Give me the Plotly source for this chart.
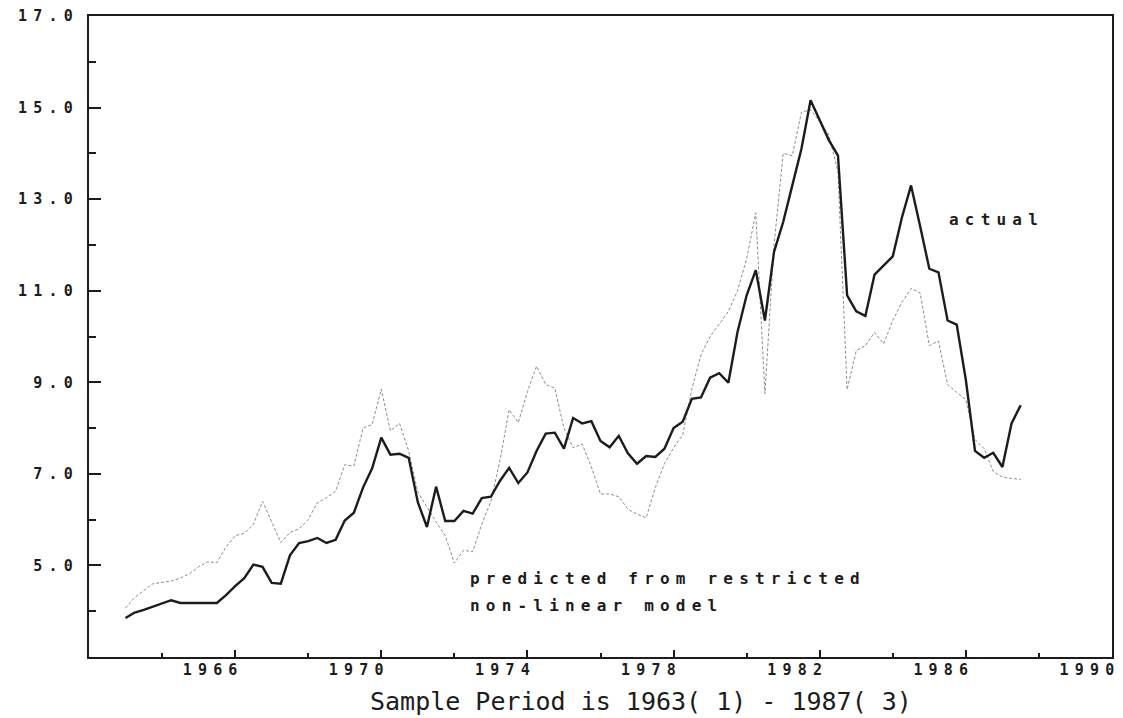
import plotly.graph_objects as go

# Quarterly sample 1963(1) - 1987(3)
start_year = 1963
n_quarters = 99
quarters = [start_year + i / 4 for i in range(n_quarters)]

actual = [3.85, 3.97, 4.03, 4.10, 4.16, 4.24, 4.18, 4.18, 4.18, 4.18,
          4.18, 4.35, 4.55, 4.72, 5.02, 4.97, 4.62, 4.60, 5.22, 5.49,
          5.53, 5.60, 5.49, 5.56, 5.98, 6.15, 6.70, 7.12, 7.79, 7.42,
          7.44, 7.35, 6.38, 5.84, 6.72, 5.97, 5.97, 6.19, 6.13, 6.47,
          6.50, 6.85, 7.13, 6.80, 7.03, 7.50, 7.88, 7.90, 7.55, 8.22,
          8.10, 8.15, 7.72, 7.58, 7.83, 7.45, 7.22, 7.39, 7.37, 7.55,
          8.00, 8.14, 8.64, 8.67, 9.10, 9.20, 8.99, 10.10, 10.90, 11.45,
          10.35, 11.85, 12.50, 13.30, 14.10, 15.16, 14.72, 14.29, 13.95, 10.90,
          10.55, 10.45, 11.35, 11.55, 11.75, 12.60, 13.30, 12.40, 11.48, 11.40,
          10.35, 10.26, 9.05, 7.50, 7.35, 7.46, 7.15, 8.10, 8.50]

predicted = [4.07, 4.30, 4.45, 4.60, 4.63, 4.66, 4.72, 4.82, 4.97, 5.08,
             5.06, 5.40, 5.65, 5.70, 5.90, 6.40, 5.95, 5.50, 5.72, 5.80,
             6.00, 6.37, 6.48, 6.62, 7.20, 7.17, 8.00, 8.08, 8.85, 7.94,
             8.10, 7.50, 6.60, 6.26, 5.95, 5.65, 5.05, 5.33, 5.30, 5.90,
             6.40, 7.30, 8.40, 8.12, 8.80, 9.35, 8.95, 8.87, 8.00, 7.57,
             7.65, 7.15, 6.56, 6.56, 6.50, 6.23, 6.12, 6.04, 6.70, 7.22,
             7.57, 7.85, 8.85, 9.60, 10.00, 10.27, 10.55, 11.00, 11.70, 12.70,
             8.75, 12.00, 14.00, 13.95, 14.90, 14.95, 14.70, 14.40, 13.60, 8.84,
             9.69, 9.80, 10.09, 9.84, 10.35, 10.75, 11.05, 10.95, 9.80, 9.90,
             8.95, 8.78, 8.62, 7.75, 7.55, 7.05, 6.93, 6.90, 6.88]

y_tick_vals = [5, 7, 9, 11, 13, 15, 17]
y_tick_text = ["5.0", "7.0", "9.0", "11.0", "13.0", "15.0", "17.0"]
x_tick_vals = [1966, 1970, 1974, 1978, 1982, 1986, 1990]
x_tick_text = ["1966", "1970", "1974", "1978", "1982", "1986", "1990"]

MONO = "DejaVu Sans Mono"
INK = "#1c1c1c"

fig = go.Figure()
fig.add_trace(go.Scatter(
    x=quarters, y=predicted, mode="lines", name="predicted",
    line=dict(color="#8c8c8c", width=1, dash="3px,2px"),
    showlegend=False, hoverinfo="skip"))
fig.add_trace(go.Scatter(
    x=quarters, y=actual, mode="lines", name="actual",
    line=dict(color=INK, width=2.4),
    showlegend=False, hoverinfo="skip"))

# page body has an 8px margin, so the figure is sized/offset to compensate
fig.update_layout(
    width=1115, height=710,
    margin=dict(l=81, r=11, t=8, b=61, autoexpand=False),
    paper_bgcolor="white", plot_bgcolor="white",
    font=dict(family=MONO, color=INK),
    xaxis=dict(
        range=[1962, 1990], showgrid=False, zeroline=False, automargin=False,
        showline=True, linecolor=INK, linewidth=2, mirror=True,
        tickmode="array", tickvals=x_tick_vals, ticktext=x_tick_text,
        ticks="inside", ticklen=7, tickwidth=2, tickcolor=INK,
        tickfont=dict(family=MONO, size=15, color=INK, weight="bold"),
        ticklabelshift=-22, ticklabelstandoff=-2, ticklabeloverflow="allow",
        minor=dict(tickvals=[1964, 1968, 1972, 1976, 1980, 1984, 1988],
                   ticks="inside", ticklen=4, tickwidth=2, tickcolor=INK),
    ),
    yaxis=dict(
        range=[3, 17], showgrid=False, zeroline=False, automargin=False,
        showline=True, linecolor=INK, linewidth=2, mirror=True,
        tickmode="array", tickvals=y_tick_vals, ticktext=y_tick_text,
        ticks="inside", ticklen=12, tickwidth=2, tickcolor=INK,
        tickfont=dict(family=MONO, size=15, color=INK, weight="bold"),
        ticklabelstandoff=5, ticklabeloverflow="allow",
        minor=dict(tickvals=[4, 6, 8, 10, 12, 14, 16],
                   ticks="inside", ticklen=7, tickwidth=2, tickcolor=INK),
    ),
)

bold_font = dict(family=MONO, size=16, color=INK, weight="bold")
fig.add_annotation(x=1985.48, y=12.56, xref="x", yref="y", text="actual",
                   showarrow=False, xanchor="left", yanchor="middle",
                   align="left", font=bold_font)
fig.add_annotation(x=1972.37, y=4.72, xref="x", yref="y",
                   text="predicted from restricted",
                   showarrow=False, xanchor="left", yanchor="middle",
                   align="left", font=bold_font)
fig.add_annotation(x=1972.37, y=4.13, xref="x", yref="y",
                   text="non-linear model",
                   showarrow=False, xanchor="left", yanchor="middle",
                   align="left", font=bold_font)
fig.add_annotation(x=0.5396, y=-0.0702, xref="paper", yref="paper",
                   text="Sample Period is 1963( 1) - 1987( 3)",
                   showarrow=False, xanchor="center", yanchor="middle",
                   font=dict(family=MONO, size=25, color=INK))

post_js = """
var gd = document.getElementById('{plot_id}');
gd.querySelectorAll('.xtick text, .ytick text').forEach(function(t){
  t.style.letterSpacing = '6.2px';
});
gd.querySelectorAll('.annotation-text').forEach(function(t){
  if (t.textContent.indexOf('Sample') < 0) { t.style.letterSpacing = '6.2px'; }
});
"""

fig.write_html("out.html", post_script=post_js)
